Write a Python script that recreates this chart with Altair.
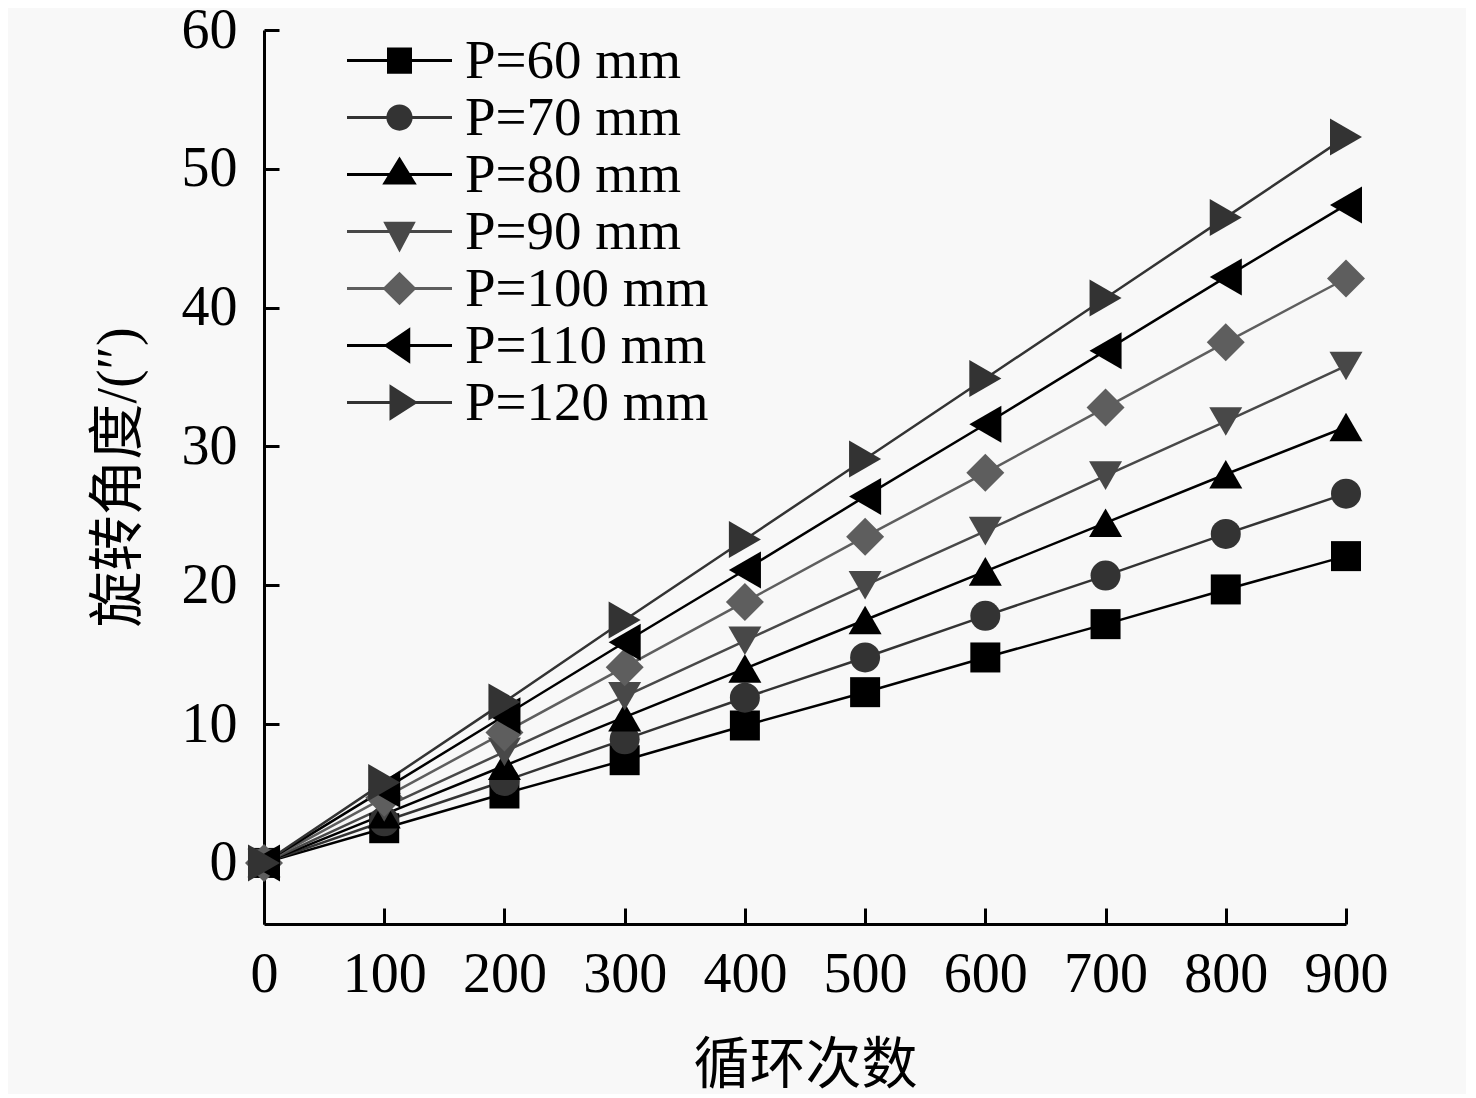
import altair as alt
import pandas as pd

cycles = [0, 100, 200, 300, 400, 500, 600, 700, 800, 900]
series = ["P=60 mm", "P=70 mm", "P=80 mm", "P=90 mm", "P=100 mm", "P=110 mm", "P=120 mm"]
p60 = [0, 2.5, 5.0, 7.4, 9.9, 12.3, 14.8, 17.2, 19.7, 22.1]
p70 = [0, 3.0, 5.9, 8.9, 11.9, 14.8, 17.8, 20.7, 23.7, 26.6]
p80 = [0, 3.5, 7.0, 10.5, 14.0, 17.5, 21.0, 24.5, 28.0, 31.4]
p90 = [0, 4.0, 8.0, 12.0, 16.0, 20.0, 23.9, 27.9, 31.8, 35.8]
p100 = [0, 4.7, 9.4, 14.1, 18.8, 23.5, 28.1, 32.8, 37.5, 42.1]
p110 = [0, 5.3, 10.6, 15.9, 21.1, 26.4, 31.6, 36.9, 42.2, 47.4]
p120 = [0, 5.8, 11.6, 17.5, 23.3, 29.1, 34.9, 40.7, 46.5, 52.3]
values = [p60, p70, p80, p90, p100, p110, p120]

x_ticks = [0, 100, 200, 300, 400, 500, 600, 700, 800, 900]
y_ticks = [0, 10, 20, 30, 40, 50, 60]

colors = ["#000000", "#333333", "#000000", "#484848", "#5e5e5e", "#000000", "#333333"]
shapes = ["square", "circle", "triangle-up", "triangle-down", "diamond", "triangle-left", "triangle-right"]
sizes = [900, 900, 1089, 1089, 1444, 1369, 1369]

rows = []
for s, vals in zip(series, values):
    for c, v in zip(cycles, vals):
        rows.append({"series": s, "cycles": c, "angle": v})
df = pd.DataFrame(rows)

# legend symbols: line segment + marker, in Vega custom-symbol units (1 unit = 12.5 px)
line = "M-4.2,-0.12 H4.2 V0.12 H-4.2 Z "
leg_paths = [
    line + "M-1,-1.05 H1 V1.05 H-1 Z",
    line + "M-1.05,0 A1.05,1.05 0 1,1 1.05,0 A1.05,1.05 0 1,1 -1.05,0 Z",
    line + "M0,-1.45 L1.38,0.8 L-1.38,0.8 Z",
    line + "M-1.3,-0.78 L1.3,-0.78 L0,1.68 Z",
    line + "M0,-1.34 L1.36,0 L0,1.34 L-1.36,0 Z",
    line + "M0.86,-1.46 L0.86,1.46 L-1.28,0 Z",
    line + "M-0.8,-1.46 L1.48,0 L-0.8,1.46 Z",
]

legend = alt.Legend(
    title=None,
    orient="none",
    legendX=0,
    legendY=3,
    padding=0,
    labelFont="Liberation Serif",
    labelFontSize=55,
    labelColor="black",
    labelLimit=600,
    rowPadding=1,
    symbolSize=625,
    symbolOffset=108,
    labelOffset=38,
    symbolStrokeWidth=0,
    symbolOpacity=1,
)

x_enc = alt.X(
    "cycles:Q",
    scale=alt.Scale(domain=[0, 900], nice=False, zero=False),
    axis=alt.Axis(
        title="循环次数",
        values=x_ticks,
        format="d",
        tickSize={"expr": "-16"},
        labelPadding=39,
        titlePadding=36,
        labelFlush=False,
        labelOverlap=False,
    ),
)
y_enc = alt.Y(
    "angle:Q",
    scale=alt.Scale(domain=[-4.4, 60], nice=False, zero=False),
    axis=alt.Axis(
        title="旋转角度/(″)",
        values=y_ticks,
        format="d",
        tickSize={"expr": "-15"},
        labelPadding=42,
        titlePadding=34,
        labelFlush=False,
        labelOverlap=False,
    ),
)

layers = []
for s, col in zip(series, colors):
    layers.append(
        alt.Chart(df)
        .transform_filter(alt.datum.series == s)
        .mark_line(strokeWidth=2.5)
        .encode(x=x_enc, y=y_enc, color=alt.value(col), order=alt.Order("cycles:Q"))
    )
for s, col, shp, sz in zip(series, colors, shapes, sizes):
    layers.append(
        alt.Chart(df)
        .transform_filter(alt.datum.series == s)
        .mark_point(filled=True, opacity=1, strokeWidth=0, shape=shp, size=sz)
        .encode(x=x_enc, y=y_enc, color=alt.value(col))
    )

# legend-only layer (no marks drawn): custom line+marker symbols
legend_layer = (
    alt.Chart(df)
    .transform_filter("false")
    .mark_point(filled=True, opacity=1, strokeWidth=0, size=625)
    .encode(
        x=x_enc,
        y=y_enc,
        color=alt.Color("series:N", scale=alt.Scale(domain=series, range=colors), legend=legend),
        shape=alt.Shape("series:N", scale=alt.Scale(domain=series, range=leg_paths), legend=legend),
    )
)
layers.append(legend_layer)

chart = alt.layer(*layers).properties(
    width=1082,
    height=894,
    autosize=alt.AutoSizeParams(type="none"),
    padding={"left": 256, "top": 22, "right": 120, "bottom": 170},
    background="#f8f8f8",
).configure_view(
    stroke=None
).configure_axis(
    grid=False,
    domainColor="black",
    domainWidth=3,
    tickColor="black",
    tickWidth=3,
    labelFont="Liberation Serif",
    labelFontSize=56,
    labelColor="black",
    titleFont="Liberation Serif, Noto Sans CJK SC",
    titleFontSize=56,
    titleFontWeight="normal",
    titleColor="black",
)

chart.save("out.html", embed_options={"renderer": "svg", "actions": False})
